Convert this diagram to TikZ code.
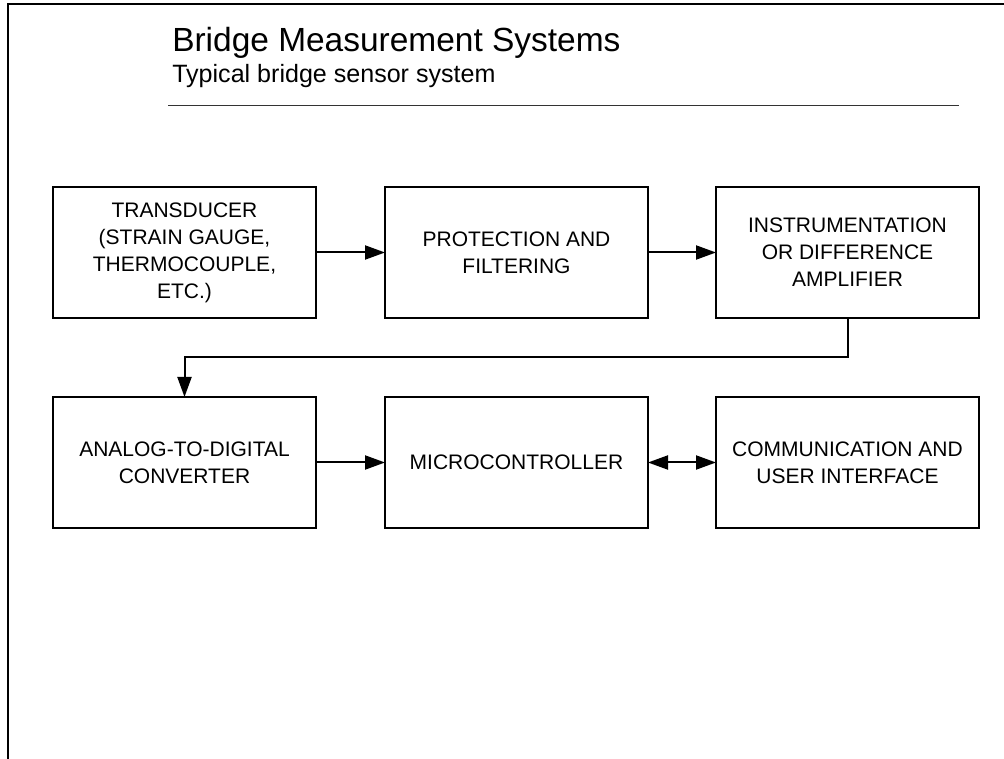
\documentclass[tikz,border=0pt]{standalone}
\usepackage{fontspec}
\setmainfont{Liberation Sans}
\usetikzlibrary{arrows.meta}
\tikzset{
  blk/.style={draw, line width=1.5pt, minimum width=197.25pt, minimum height=98.25pt,
    inner sep=0pt, outer sep=0pt, align=center,
    font=\fontsize{15.75pt}{20.25pt}\selectfont},
  tip/.style={Triangle[length=15pt,width=10.5pt]},
  arr/.style={line width=1.5pt, -{Triangle[length=15pt,width=10.5pt]}},
  darr/.style={line width=1.5pt, {Triangle[length=15pt,width=10.5pt]}-{Triangle[length=15pt,width=10.5pt]}},
  frame/.style={line width=1.8pt},
}
\begin{document}
\begin{tikzpicture}[x=0.75pt,y=-0.75pt]
\useasboundingbox (0,0) rectangle (1004,759);
\coordinate (fr1) at (8,759);
\coordinate (fr2) at (8,4);
\coordinate (fr3) at (1004,4);
\draw[frame] (fr1) -- (fr2) -- (fr3);
\node[anchor=base west, inner sep=0pt, font=\fontsize{25.1pt}{30pt}\selectfont] (title) at (172,52) {Bridge Measurement Systems};
\node[anchor=base west, inner sep=0pt, font=\fontsize{18.8pt}{22pt}\selectfont] (sub) at (172,83) {Typical bridge sensor system};
\coordinate (ul1) at (168,105.5);
\coordinate (ul2) at (959,105.5);
\draw[line width=1pt, black!80] (ul1) -- (ul2);
\node[blk] (b1) at (184.5,252.5) {TRANSDUCER\\(STRAIN GAUGE,\\THERMOCOUPLE,\\ETC.)};
\node[blk] (b2) at (516.5,252.5) {PROTECTION AND\\FILTERING};
\node[blk] (b3) at (847.5,252.5) {INSTRUMENTATION\\OR DIFFERENCE\\AMPLIFIER};
\node[blk] (b4) at (184.5,462.5) {ANALOG-TO-DIGITAL\\CONVERTER};
\node[blk] (b5) at (516.5,462.5) {MICROCONTROLLER};
\node[blk] (b6) at (847.5,462.5) {COMMUNICATION AND\\USER INTERFACE};
\draw[arr] (b1) -- (b2);
\draw[arr] (b2) -- (b3);
\draw[arr] (b3.south) -- ++(0,39) -| (b4.north);
\draw[arr] (b4) -- (b5);
\draw[darr] (b5) -- (b6);
\end{tikzpicture}
\end{document}
